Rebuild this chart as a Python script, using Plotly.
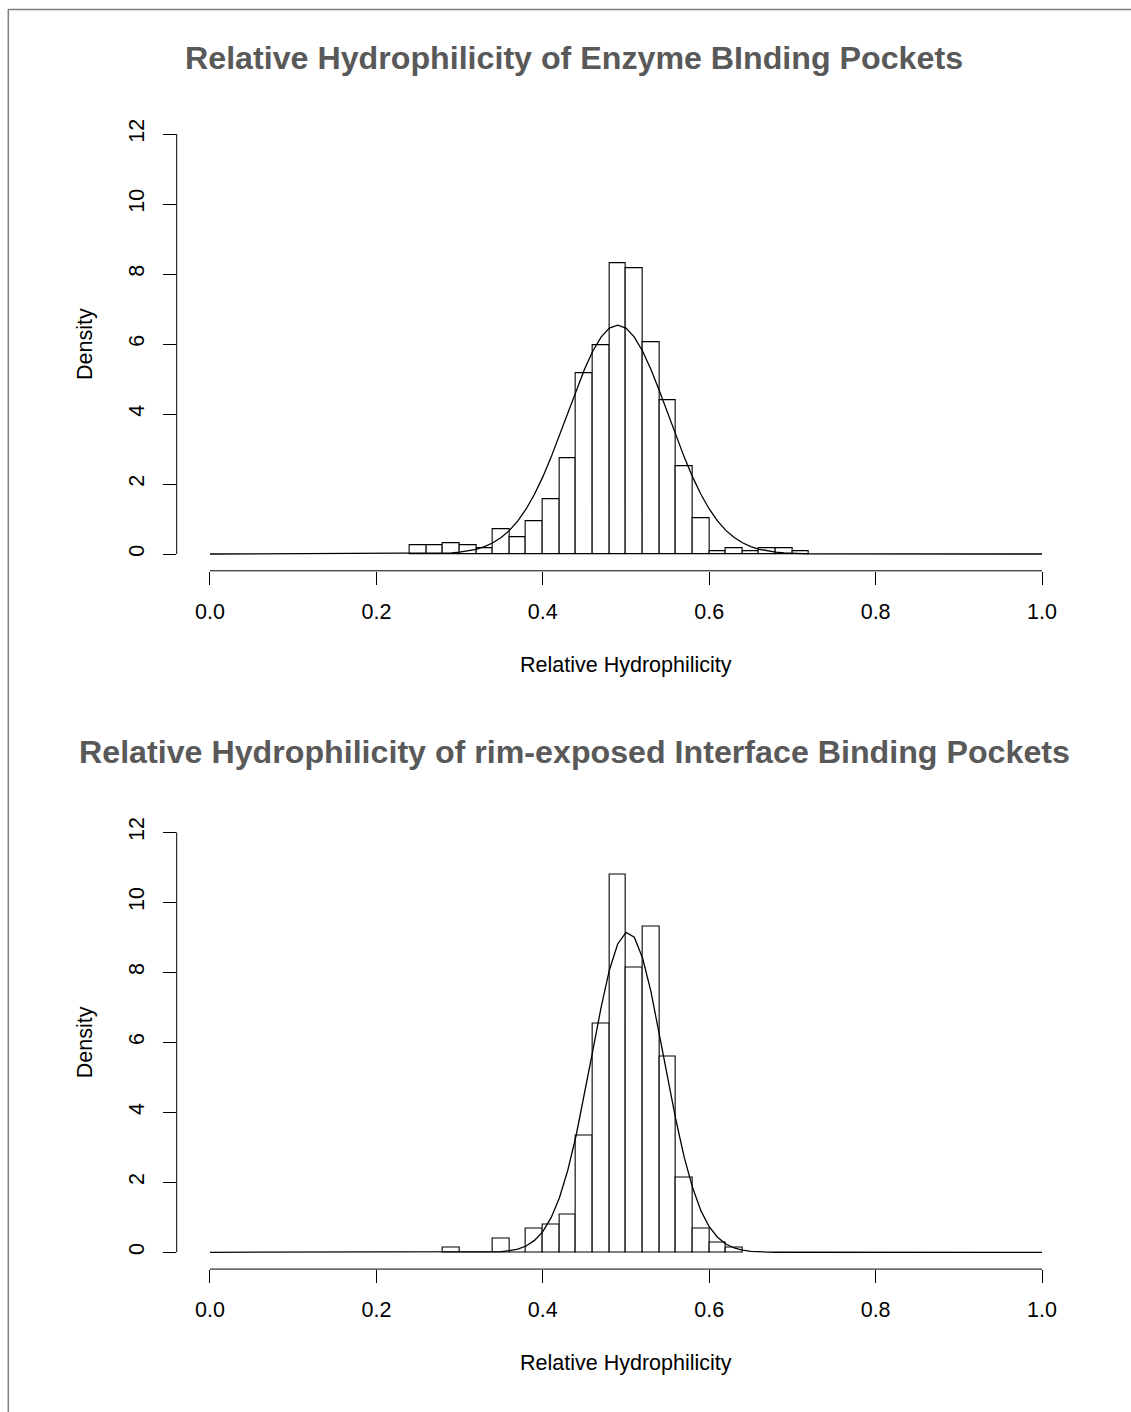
import plotly.graph_objects as go

# ---------------- data ----------------
top_title = "Relative Hydrophilicity of Enzyme BInding Pockets"
bottom_title = "Relative Hydrophilicity of rim-exposed Interface Binding Pockets"
x_label = "Relative Hydrophilicity"
y_label = "Density"

bin_width = 0.02

top_bin_left = [0.24, 0.26, 0.28, 0.30, 0.32, 0.34, 0.36, 0.38, 0.40, 0.42, 0.44, 0.46,
                0.48, 0.50, 0.52, 0.54, 0.56, 0.58, 0.60, 0.62, 0.64, 0.66, 0.68, 0.70]
top_density = [0.238, 0.238, 0.314, 0.238, 0.152, 0.705, 0.476, 0.933, 1.571, 2.743, 5.18, 5.96,
               8.32, 8.17, 6.05, 4.39, 2.51, 1.02, 0.076, 0.152, 0.076, 0.152, 0.152, 0.076]

bottom_bin_left = [0.28, 0.30, 0.32, 0.34, 0.36, 0.38, 0.40, 0.42, 0.44, 0.46, 0.48, 0.50,
                   0.52, 0.54, 0.56, 0.58, 0.60, 0.62]
bottom_density = [0.133, 0.0, 0.0, 0.40, 0.0, 0.667, 0.80, 1.067, 3.33, 6.53, 10.79, 8.13,
                  9.32, 5.59, 2.13, 0.667, 0.267, 0.133]

top_curve_x = [0.00, 0.28, 0.29, 0.30, 0.31, 0.32, 0.33, 0.34, 0.35, 0.36, 0.37, 0.38, 0.39,
               0.40, 0.41, 0.42, 0.43, 0.44, 0.45, 0.46, 0.47, 0.48, 0.49, 0.50, 0.51, 0.52,
               0.53, 0.54, 0.55, 0.56, 0.57, 0.58, 0.59, 0.60, 0.61, 0.62, 0.63, 0.64, 0.65,
               0.66, 0.67, 0.68, 0.69, 0.70, 0.71, 0.72, 1.00]
top_curve_y = [0.0, 0.017, 0.030, 0.051, 0.084, 0.135, 0.21, 0.32, 0.47, 0.675, 0.944, 1.287, 1.706,
               2.203, 2.768, 3.384, 4.03, 4.674, 5.274, 5.795, 6.197, 6.453, 6.54, 6.453, 6.197, 5.795,
               5.274, 4.674, 4.03, 3.384, 2.768, 2.203, 1.706, 1.287, 0.944, 0.675, 0.47, 0.32, 0.21,
               0.135, 0.084, 0.051, 0.030, 0.017, 0.009, 0.005, 0.0]

bottom_curve_x = [0.00, 0.34, 0.35, 0.36, 0.37, 0.38, 0.39, 0.40, 0.41, 0.42, 0.43, 0.44, 0.45,
                  0.46, 0.47, 0.48, 0.49, 0.50, 0.51, 0.52, 0.53, 0.54, 0.55, 0.56, 0.57, 0.58,
                  0.59, 0.60, 0.61, 0.62, 0.63, 0.64, 0.65, 0.66, 0.67, 0.68, 1.00]
bottom_curve_y = [0.0, 0.009, 0.021, 0.045, 0.093, 0.18, 0.34, 0.59, 0.99, 1.56, 2.34, 3.33, 4.49,
                  5.75, 6.99, 8.06, 8.81, 9.14, 9.00, 8.40, 7.45, 6.26, 4.99, 3.78, 2.71, 1.85,
                  1.19, 0.73, 0.43, 0.235, 0.123, 0.061, 0.029, 0.012, 0.005, 0.002, 0.0]

x_ticks = [0.0, 0.2, 0.4, 0.6, 0.8, 1.0]
x_tick_text = ["0.0", "0.2", "0.4", "0.6", "0.8", "1.0"]
y_ticks = [0, 2, 4, 6, 8, 10, 12]
y_tick_text = ["0", "2", "4", "6", "8", "10", "12"]
x_limits = [0.0, 1.0]
y_limits = [0, 12]

# ---------------- layout constants ----------------
W, H = 1131, 1412
FONT = "Liberation Sans, Arial, Helvetica, sans-serif"
TICK_SIZE = 21.5
TITLE_SIZE = 32.2


def px_x(p):
    return p / W


def px_y(p):
    return 1 - p / H


x_dom = [px_x(176.7), px_x(1075.3)]
top_y_dom = [px_y(570.8), px_y(117.2)]
bot_y_dom = [px_y(1269.1), px_y(815.5)]

fig = go.Figure()

for k, (lefts, dens, cx, cy) in enumerate([
        (top_bin_left, top_density, top_curve_x, top_curve_y),
        (bottom_bin_left, bottom_density, bottom_curve_x, bottom_curve_y)]):
    xa = "x" if k == 0 else "x2"
    ya = "y" if k == 0 else "y2"
    centers = [l + bin_width / 2 for l in lefts]
    fig.add_trace(go.Bar(x=centers, y=dens, width=bin_width, xaxis=xa, yaxis=ya,
                         marker=dict(color="white", line=dict(color="black", width=1.1)),
                         showlegend=False, hoverinfo="skip"))
    fig.add_trace(go.Scatter(x=cx, y=cy, mode="lines", xaxis=xa, yaxis=ya,
                             line=dict(color="black", width=1.3),
                             showlegend=False, hoverinfo="skip"))

common_x = dict(range=[-0.04, 1.04], tickvals=x_ticks, ticktext=x_tick_text,
                ticks="outside", ticklen=13, tickwidth=1, tickcolor="black",
                showgrid=False, zeroline=False, showline=False, ticklabelstandoff=8,
                tickfont=dict(family=FONT, size=TICK_SIZE, color="black"), domain=x_dom)
common_y = dict(range=[-0.48, 12.48], tickvals=y_ticks, ticktext=y_tick_text,
                ticks="outside", ticklen=13, tickwidth=1, tickcolor="black", tickangle=-90,
                showgrid=False, zeroline=False, showline=False, ticklabelstandoff=10,
                tickfont=dict(family=FONT, size=TICK_SIZE, color="black"))

fig.update_layout(
    width=W, height=H, margin=dict(l=0, r=0, t=0, b=0),
    paper_bgcolor="white", plot_bgcolor="white", bargap=0,
    xaxis=dict(anchor="y", **common_x),
    yaxis=dict(anchor="x", domain=top_y_dom, **common_y),
    xaxis2=dict(anchor="y2", **common_x),
    yaxis2=dict(anchor="x2", domain=bot_y_dom, **common_y),
)

shapes = []
for xa, ya in [("x", "y"), ("x2", "y2")]:
    shapes.append(dict(type="line", xref=xa, yref=ya + " domain", x0=x_limits[0], x1=x_limits[1],
                       y0=0, y1=0, line=dict(color="black", width=1)))
    shapes.append(dict(type="line", xref=xa + " domain", yref=ya, x0=0, x1=0,
                       y0=y_limits[0], y1=y_limits[1], line=dict(color="black", width=1)))
# outer frame (top and left edges)
shapes.append(dict(type="line", xref="paper", yref="paper", x0=px_x(8), x1=1,
                   y0=px_y(9.5), y1=px_y(9.5), line=dict(color="#7f7f7f", width=1.5)))
shapes.append(dict(type="line", xref="paper", yref="paper", x0=px_x(8.3), x1=px_x(8.3),
                   y0=0, y1=px_y(9.5), line=dict(color="#7f7f7f", width=1.5)))
fig.update_layout(shapes=shapes)

ann = []
for title, ty, xl_y, dom in [(top_title, 58, 665, top_y_dom), (bottom_title, 752, 1363, bot_y_dom)]:
    ann.append(dict(text="<b>%s</b>" % title, x=px_x(574), y=px_y(ty), xref="paper", yref="paper",
                    xanchor="center", yanchor="middle", showarrow=False,
                    font=dict(family=FONT, size=TITLE_SIZE, color="#595959")))
    ann.append(dict(text=x_label, x=px_x(626), y=px_y(xl_y), xref="paper", yref="paper",
                    xanchor="center", yanchor="middle", showarrow=False,
                    font=dict(family=FONT, size=TICK_SIZE, color="black")))
    ann.append(dict(text=y_label, x=px_x(85), y=(dom[0] + dom[1]) / 2, xref="paper", yref="paper",
                    xanchor="center", yanchor="middle", showarrow=False, textangle=-90,
                    font=dict(family=FONT, size=TICK_SIZE, color="black")))
fig.update_layout(annotations=ann)

fig.write_html("out.html")
